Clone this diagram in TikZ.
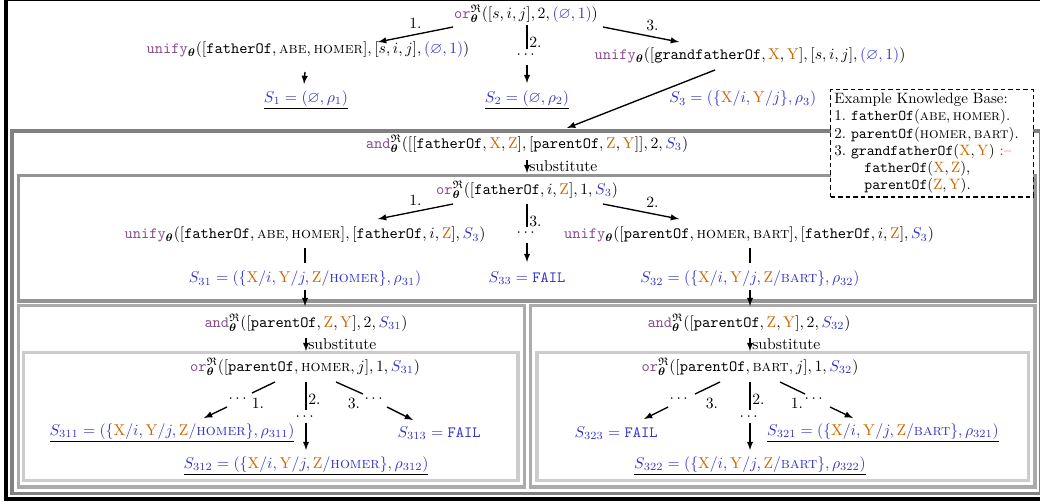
\documentclass[tikz,border=0pt]{standalone}
\usepackage{amsmath}
\usepackage{amssymb}
\usepackage{xcolor}
\usepackage{tikz}
\usetikzlibrary{calc,positioning}

\definecolor{opcol}{RGB}{135,75,135}
\definecolor{varcol}{RGB}{204,102,0}
\definecolor{subcol}{RGB}{51,51,204}

\newcommand{\orop}{{\color{opcol}\mathtt{or}}^{\mathfrak{R}}_{\boldsymbol{\theta}}}
\newcommand{\andop}{{\color{opcol}\mathtt{and}}^{\mathfrak{R}}_{\boldsymbol{\theta}}}
\newcommand{\unifyop}{{\color{opcol}\mathtt{unify}}_{\boldsymbol{\theta}}}
\newcommand{\pred}[1]{\mathtt{#1}}
\newcommand{\ent}[1]{\text{\textsc{#1}}}
\newcommand{\sol}[1]{{\color{subcol}#1}}
\newcommand{\Xv}{{\color{varcol}\mathrm{X}}}
\newcommand{\Yv}{{\color{varcol}\mathrm{Y}}}
\newcommand{\Zv}{{\color{varcol}\mathrm{Z}}}

\begin{document}
\begin{tikzpicture}[x=0.6667pt,y=-0.6667pt]
  \tikzset{ arr/.style={-latex,line width=0.9pt},
    ln/.style={line width=0.9pt},
    lbl/.style={inner sep=1pt},
    box/.style={line width=2.4pt},
    every node/.style={scale=1.045},
  }
  \useasboundingbox (0,0) rectangle (1040,501);

  % the nested frames
  \draw[line width=2.7pt,black] (6,-1) rectangle (1047,499);
  \draw[box,black!50] (12,131) rectangle (1041,493.5);
  \draw[box,black!42] (18.5,175.5) rectangle (1035,301);
  \draw[box,black!33] (18.5,305.5) rectangle (524.5,487);
  \draw[box,black!33] (530.5,305.5) rectangle (1035,487);
  \draw[box,black!20] (23.5,352.5) rectangle (518,480.5);
  \draw[box,black!20] (537,352.5) rectangle (1028.5,480.5);

  % top level
  \node (or0) at (526,14) {$\orop([s,i,j],2,\sol{(\varnothing,1)})$};
  \node (u1) at (308,50) {$\unifyop([\pred{fatherOf},\ent{abe},\ent{homer}],[s,i,j],\sol{(\varnothing,1)})$};
  \node (u2) at (750,56) {$\unifyop([\pred{grandfatherOf},\Xv,\Yv],[s,i,j],\sol{(\varnothing,1)})$};
  \node (d0) at (527,55) {$\cdots$};
  \node (s1) at (306,100) {$\underline{\sol{S_1=(\varnothing,\rho_1)}}$};
  \node (s2) at (527,100) {$\underline{\sol{S_2=(\varnothing,\rho_2)}}$};

  \draw[arr] ($(or0)+(-73,13)$) -- ($(u1)+(70,-8)$) node [midway, above] {1.};
  \draw[arr] ($(or0)+(77,13)$) -- ($(u2)+(-71,-14)$) node [pos=0.65, above] {3.};
  \draw[ln] ($(or0)+(1,11)$) -- ($(d0)+(0,-6)$) node [pos=0.7, right, lbl] {2.};
  \draw[arr] ($(d0)+(0,10)$) -- ($(s2)+(0,-17)$);
  \draw[arr] ($(u1)+(-3,22)$) -- ($(s1)+(-2,-16)$);

  % and node
  \node (and0) at (527,144) {$\andop([[\pred{fatherOf},\Xv,\Zv],[\pred{parentOf},\Zv,\Yv]],2,\sol{S_3})$};
  \draw[arr] ($(u2)+(-35,14)$) -- ($(and0)+(40,-16)$)
    node [midway, right=15pt] {$\sol{S_3=(\{\Xv/i,\Yv/j\},\rho_3)}$};

  % or node of the first goal
  \node (or1) at (527,190) {$\orop([\pred{fatherOf},i,\Zv],1,\sol{S_3})$};
  \draw[arr] ($(and0)+(0,16)$) -- ($(or1)+(0,-17)$) node [midway, right, lbl] {substitute};
  \node (u3) at (305,235) {$\unifyop([\pred{fatherOf},\ent{abe},\ent{homer}],[\pred{fatherOf},i,\Zv],\sol{S_3})$};
  \node (u4) at (749,235) {$\unifyop([\pred{parentOf},\ent{homer},\ent{bart}],[\pred{fatherOf},i,\Zv],\sol{S_3})$};
  \node (d1) at (527,233) {$\cdots$};
  \node (s31) at (305,279) {$\sol{S_{31}=(\{\Xv/i,\Yv/j,\Zv/\ent{homer}\},\rho_{31})}$};
  \node (s32) at (750,279) {$\sol{S_{32}=(\{\Xv/i,\Yv/j,\Zv/\ent{bart}\},\rho_{32})}$};
  \node (s33) at (527,278) {$\sol{S_{33}=\mathtt{FAIL}}$};

  \draw[arr] ($(or1)+(-74,14)$) -- ($(u3)+(73,-16)$) node [midway, above] {1.};
  \draw[arr] ($(or1)+(76,14)$) -- ($(u4)+(-70,-16)$) node [pos=0.65, above] {2.};
  \draw[ln] ($(or1)+(0,14)$) -- ($(d1)+(0,-6)$) node [pos=0.75, right, lbl] {3.};
  \draw[arr] ($(d1)+(0,10)$) -- ($(s33)+(0,-16)$);
  \draw[ln] ($(u3)+(0,13)$) -- ($(s31)+(0,-16)$);
  \draw[ln] ($(u4)+(1,13)$) -- ($(s32)+(0,-16)$);

  % left second goal
  \node (and1) at (306,323) {$\andop([\pred{parentOf},\Zv,\Yv],2,\sol{S_{31}})$};
  \node (or2) at (305,367) {$\orop([\pred{parentOf},\ent{homer},j],1,\sol{S_{31}})$};
  \draw[arr] ($(s31)+(0,11)$) -- ($(and1)+(-1,-17)$);
  \draw[arr] ($(and1)+(0,15)$) -- ($(or2)+(1,-16)$) node [midway, right, lbl] {substitute};

  \node (dL1) at (239,399) {$\cdots$};
  \node (dM1) at (306,417) {$\cdots$};
  \node (dR1) at (375,399) {$\cdots$};
  \node[lbl] (nL1) at (258,403) {1.};
  \node[lbl] (nR1) at (354,403) {3.};
  \node (s311) at (172,433) {$\underline{\sol{S_{311}=(\{\Xv/i,\Yv/j,\Zv/\ent{homer}\},\rho_{311})}}$};
  \node (s312) at (306,466) {$\underline{\sol{S_{312}=(\{\Xv/i,\Yv/j,\Zv/\ent{homer}\},\rho_{312})}}$};
  \node (s313) at (439,433) {$\sol{S_{313}=\mathtt{FAIL}}$};

  \draw[ln] ($(or2)+(-30,15)$) -- ($(dL1)+(13,-6)$);
  \draw[arr] ($(dL1)+(-12,8)$) -- ($(s311)+(32,-15)$);
  \draw[ln] ($(or2)+(1,15)$) -- ($(dM1)+(0,-7)$) node [pos=0.6, right, lbl] {2.};
  \draw[arr] ($(dM1)+(0,6)$) -- ($(s312)+(0,-16)$);
  \draw[ln] ($(or2)+(31,15)$) -- ($(dR1)+(-12,-5)$);
  \draw[arr] ($(dR1)+(12,8)$) -- ($(s313)+(-26,-13)$);

  % right second goal
  \node (and2) at (749,323) {$\andop([\pred{parentOf},\Zv,\Yv],2,\sol{S_{32}})$};
  \node (or3) at (750,367) {$\orop([\pred{parentOf},\ent{bart},j],1,\sol{S_{32}})$};
  \draw[arr] ($(s32)+(0,11)$) -- ($(and2)+(1,-17)$);
  \draw[arr] ($(and2)+(1,15)$) -- ($(or3)+(0,-16)$) node [midway, right, lbl] {substitute};

  \node (dL2) at (680,399) {$\cdots$};
  \node (dM2) at (750,417) {$\cdots$};
  \node (dR2) at (815,399) {$\cdots$};
  \node[lbl] (nL2) at (712,403) {3.};
  \node[lbl] (nR2) at (797,403) {1.};
  \node (s323) at (616,433) {$\sol{S_{323}=\mathtt{FAIL}}$};
  \node (s322) at (750,466) {$\underline{\sol{S_{322}=(\{\Xv/i,\Yv/j,\Zv/\ent{bart}\},\rho_{322})}}$};
  \node (s321) at (883,433) {$\underline{\sol{S_{321}=(\{\Xv/i,\Yv/j,\Zv/\ent{bart}\},\rho_{321})}}$};

  \draw[ln] ($(or3)+(-30,15)$) -- ($(dL2)+(15,-5)$);
  \draw[arr] ($(dL2)+(-12,8)$) -- ($(s323)+(28,-14)$);
  \draw[ln] ($(or3)+(0,15)$) -- ($(dM2)+(0,-7)$) node [pos=0.6, right, lbl] {2.};
  \draw[arr] ($(dM2)+(0,6)$) -- ($(s322)+(0,-16)$);
  \draw[ln] ($(or3)+(30,15)$) -- ($(dR2)+(-10,-5)$);
  \draw[arr] ($(dR2)+(15,8)$) -- ($(s321)+(-30,-15)$);

  % knowledge base
  \tikzset{every node/.style={}}
  \node[draw, dash pattern=on 3pt off 2pt, line width=0.9pt, fill=white, anchor=north west,
    text width=130pt, inner sep=2.5pt, align=left, font=\fontsize{10}{11.4}\selectfont] (kb) at (830,89)
    {Example Knowledge Base:\\
     1.~$\pred{fatherOf}(\ent{abe},\ent{homer})$.\\
     2.~$\pred{parentOf}(\ent{homer},\ent{bart})$.\\
     3.~$\pred{grandfatherOf}(\Xv,\Yv)$ \textcolor{red}{:--}\\
     \hspace*{20pt}$\pred{fatherOf}(\Xv,\Zv)$,\\
     \hspace*{20pt}$\pred{parentOf}(\Zv,\Yv)$.};
\end{tikzpicture}
\end{document}
